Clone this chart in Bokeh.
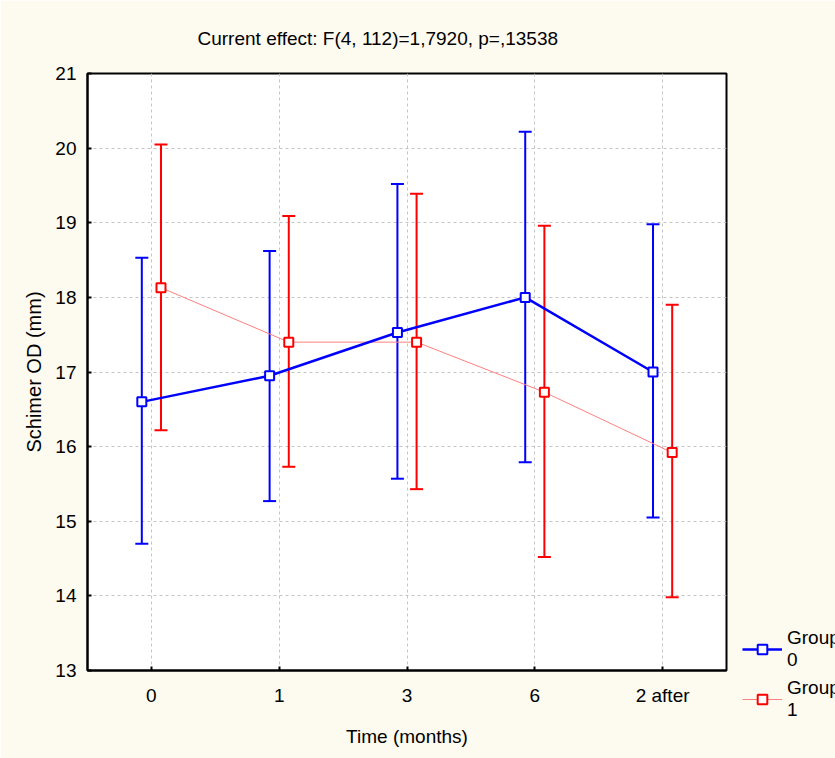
from bokeh.plotting import figure
from bokeh.models import (ColumnDataSource, Whisker, TeeHead, Legend, LegendItem,
                          FixedTicker, Range1d)
from bokeh.embed import file_html
from bokeh.resources import INLINE

categories = ["0", "1", "3", "6", "2 after"]
g0_mean = [16.60, 16.95, 17.53, 18.00, 17.00]
g0_lower = [14.70, 15.27, 15.57, 15.79, 15.05]
g0_upper = [18.53, 18.62, 19.52, 20.22, 18.98]
g1_mean = [18.13, 17.40, 17.40, 16.73, 15.92]
g1_lower = [16.22, 15.73, 15.43, 14.52, 13.98]
g1_upper = [20.05, 19.09, 19.39, 18.96, 17.90]
y_ticks = [13, 14, 15, 16, 17, 18, 19, 20, 21]

FONT = "Liberation Sans"
CREAM = "#FDFAF0"
BLUE = "#0000FF"
RED = "#FF0000"
PINK = "#FF8080"
DODGE = 0.075

idx = list(range(len(categories)))
src0 = ColumnDataSource(dict(x=[i - DODGE for i in idx], y=g0_mean, lower=g0_lower, upper=g0_upper))
src1 = ColumnDataSource(dict(x=[i + DODGE for i in idx], y=g1_mean, lower=g1_lower, upper=g1_upper))

p = figure(frame_width=639, frame_height=597, x_range=Range1d(-0.5, len(categories) - 0.5),
           y_range=Range1d(y_ticks[0], y_ticks[-1]),
           output_backend="svg", toolbar_location=None,
           min_border_left=87, min_border_right=109, min_border_top=72, min_border_bottom=89)
p.background_fill_color = "white"
p.border_fill_color = CREAM
p.outline_line_color = "black"
p.outline_line_width = 2

p.title.text = "Current effect: F(4, 112)=1,7920, p=,13538"
p.title.text_font = FONT
p.title.text_font_size = "19px"
p.title.text_font_style = "normal"
p.title.align = "left"
p.title.offset = 110
p.title.standoff = 50
p.title.text_color = "black"

p.xaxis.ticker = FixedTicker(ticks=idx)
p.yaxis.ticker = FixedTicker(ticks=y_ticks)
p.xaxis.major_label_overrides = {i: c for i, c in zip(idx, categories)}

for ax in (p.xaxis[0], p.yaxis[0]):
    ax.axis_line_color = "black"
    ax.axis_line_width = 2
    ax.major_tick_in = 4
    ax.major_tick_out = 0
    ax.major_tick_line_width = 2
    ax.minor_tick_line_color = None
    ax.major_label_text_font = FONT
    ax.major_label_text_font_size = "19px"
    ax.major_label_text_color = "black"
    ax.axis_label_text_font = FONT
    ax.axis_label_text_font_style = "normal"
    ax.axis_label_text_color = "black"

p.xaxis.axis_label = "Time (months)"
p.yaxis.axis_label = "Schimer OD (mm)"
p.xaxis.axis_label_text_font_size = "19px"
p.yaxis.axis_label_text_font_size = "20px"
p.xaxis.major_label_standoff = 14
p.xaxis.axis_label_standoff = 17
p.yaxis.major_label_standoff = 11
p.yaxis.axis_label_standoff = 7

for g in (p.xgrid[0], p.ygrid[0]):
    g.grid_line_color = "#C4C4C4"
    g.grid_line_dash = "3 3"
    g.grid_line_width = 1

# error bars
for src, col in ((src1, RED), (src0, BLUE)):
    w = Whisker(source=src, base="x", lower="lower", upper="upper", dimension="height",
                line_color=col, line_width=2,
                upper_head=TeeHead(size=13, line_color=col, line_width=2),
                lower_head=TeeHead(size=13, line_color=col, line_width=2))
    p.add_layout(w)

r1_line = p.line("x", "y", source=src1, line_color=PINK, line_width=1)
r1_pt = p.scatter("x", "y", source=src1, marker="square", size=9, fill_color="white",
                  line_color=RED, line_width=2)
r0_line = p.line("x", "y", source=src0, line_color=BLUE, line_width=2.5)
r0_pt = p.scatter("x", "y", source=src0, marker="square", size=9, fill_color="white",
                  line_color=BLUE, line_width=2)

legend = Legend(items=[LegendItem(label="Group\n0", renderers=[r0_line, r0_pt]),
                       LegendItem(label="Group\n1", renderers=[r1_line, r1_pt])],
                location=(16, -51), padding=0, margin=0, spacing=6, glyph_width=40,
                glyph_height=24, label_standoff=5, border_line_color=None,
                background_fill_alpha=0, label_text_font=FONT, label_text_font_size="19px",
                label_text_color="black")
p.add_layout(legend, "right")

open("out.html", "w").write(file_html(p, INLINE))
